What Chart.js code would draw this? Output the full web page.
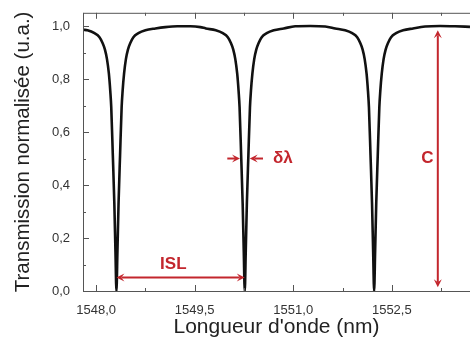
<!DOCTYPE html>
<html>
<head>
<meta charset="utf-8">
<script src="https://cdn.jsdelivr.net/npm/chart.js@4/dist/chart.umd.min.js"></script>
<style>
  html, body { margin: 0; background: #fff; }
  #wrap { width: 470px; height: 353px; position: relative; }
</style>
</head>
<body>
<div id="wrap"><canvas id="spectrum"></canvas></div>
<script>
(() => {
  "use strict";

  // wavelength (nm) and normalised transmission
  const wavelengths = [
    1547.807, 1547.868, 1547.975, 1548.051, 1548.096, 1548.134, 1548.165, 1548.194,
    1548.215, 1548.230, 1548.254, 1548.277, 1548.294, 1548.309, 1548.324, 1548.341,
    1548.364, 1548.388, 1548.403, 1548.425, 1548.453, 1548.484, 1548.522, 1548.567,
    1548.643, 1548.750, 1548.902, 1549.053, 1549.236, 1549.434, 1549.586,
    1549.669, 1549.821, 1549.928, 1550.004, 1550.049, 1550.087, 1550.118, 1550.147,
    1550.168, 1550.183, 1550.207, 1550.230, 1550.247, 1550.262, 1550.277, 1550.294,
    1550.317, 1550.341, 1550.356, 1550.378, 1550.406, 1550.437, 1550.475, 1550.520,
    1550.596, 1550.703, 1550.855, 1551.030, 1551.258, 1551.486,
    1551.638, 1551.790, 1551.897, 1551.973, 1552.018, 1552.056, 1552.087, 1552.116,
    1552.137, 1552.152, 1552.176, 1552.199, 1552.216, 1552.231, 1552.246, 1552.263,
    1552.286, 1552.310, 1552.325, 1552.347, 1552.375, 1552.406, 1552.444, 1552.489,
    1552.565, 1552.672, 1552.824, 1553.006, 1553.234, 1553.462, 1553.690
  ];
  const transmission = [
    0.986, 0.984, 0.973, 0.958, 0.937, 0.911, 0.875, 0.820,
    0.755, 0.693, 0.512, 0.330, 0.149, 0.000, 0.149, 0.330,
    0.512, 0.693, 0.755, 0.820, 0.875, 0.911, 0.937, 0.958,
    0.973, 0.984, 0.991, 0.996, 0.999, 0.999, 0.996,
    0.991, 0.984, 0.973, 0.958, 0.937, 0.911, 0.875, 0.820,
    0.755, 0.693, 0.512, 0.330, 0.149, 0.000, 0.149, 0.330,
    0.512, 0.693, 0.755, 0.820, 0.875, 0.911, 0.937, 0.958,
    0.973, 0.984, 0.991, 0.999, 1.000, 0.998,
    0.991, 0.984, 0.973, 0.958, 0.937, 0.911, 0.875, 0.820,
    0.755, 0.693, 0.512, 0.330, 0.149, 0.000, 0.149, 0.330,
    0.512, 0.693, 0.755, 0.820, 0.875, 0.911, 0.937, 0.958,
    0.973, 0.984, 0.991, 0.998, 1.000, 0.999, 0.997
  ];

  const xMajorTicks = [1548, 1549.5, 1551, 1552.5];
  const xMinorTicks = [1548.75, 1550.25, 1551.75, 1553.25];
  const yMajorTicks = [0, 0.2, 0.4, 0.6, 0.8, 1.0];
  const yMinorTicks = [0.1, 0.3, 0.5, 0.7, 0.9];

  const RED = "#c3262d";
  const AXIS = "#555";
  const FONT = "'Liberation Sans', Arial, sans-serif";

  // annotation marks in data units
  const arrows = [
    { from: [1548.309, 0.051], to: [1550.262, 0.051], both: true },
    { from: [1549.996, 0.50], to: [1550.189, 0.50], both: false },
    { from: [1550.540, 0.50], to: [1550.337, 0.50], both: false },
    { from: [1553.20, 0.984], to: [1553.20, 0.0145], both: true }
  ];
  const labels = [
    { text: "ISL", at: [1549.175, 0.100], align: "center" },
    { text: "δλ", at: [1550.69, 0.50], align: "left" },
    { text: "C", at: [1553.04, 0.50], align: "center" }
  ];

  const fmt = (v) => v.toFixed(1).replace(".", ",");

  function drawHead(ctx, tx, ty, dx, dy) {
    const len = 8, half = 4;
    const px = -dy, py = dx;
    ctx.beginPath();
    ctx.moveTo(tx, ty);
    ctx.lineTo(tx - dx * len + px * half, ty - dy * len + py * half);
    ctx.lineTo(tx - dx * len * 0.6, ty - dy * len * 0.6);
    ctx.lineTo(tx - dx * len - px * half, ty - dy * len - py * half);
    ctx.closePath();
    ctx.fill();
  }

  const framePlugin = {
    id: "frame",
    afterDraw(chart) {
      const { ctx, chartArea: a, scales } = chart;
      const xs = scales.x, ys = scales.y;
      ctx.save();
      ctx.strokeStyle = AXIS;
      ctx.lineWidth = 1;
      ctx.beginPath();
      ctx.moveTo(a.left + 0.5, a.top + 0.5);
      ctx.lineTo(a.right, a.top + 0.5);
      ctx.moveTo(a.left + 0.5, a.top);
      ctx.lineTo(a.left + 0.5, a.bottom + 0.5);
      ctx.lineTo(a.right, a.bottom + 0.5);
      const xTick = (v, len) => {
        const px = Math.round(xs.getPixelForValue(v)) + 0.5;
        ctx.moveTo(px, a.bottom); ctx.lineTo(px, a.bottom - len);
        ctx.moveTo(px, a.top); ctx.lineTo(px, a.top + len);
      };
      const yTick = (v, len) => {
        const py = Math.round(ys.getPixelForValue(v)) + 0.5;
        ctx.moveTo(a.left, py); ctx.lineTo(a.left + len, py);
      };
      xMajorTicks.forEach((v) => xTick(v, 6));
      xMinorTicks.forEach((v) => xTick(v, 3));
      yMajorTicks.forEach((v) => yTick(v, 6));
      yMinorTicks.forEach((v) => yTick(v, 3));
      ctx.stroke();

      // red annotations
      ctx.strokeStyle = RED;
      ctx.fillStyle = RED;
      ctx.lineWidth = 2;
      arrows.forEach((ar) => {
        const x1 = xs.getPixelForValue(ar.from[0]), y1 = ys.getPixelForValue(ar.from[1]);
        const x2 = xs.getPixelForValue(ar.to[0]), y2 = ys.getPixelForValue(ar.to[1]);
        const d = Math.hypot(x2 - x1, y2 - y1);
        const dx = (x2 - x1) / d, dy = (y2 - y1) / d;
        ctx.beginPath();
        ctx.moveTo(x1 + (ar.both ? dx * 5 : 0), y1 + (ar.both ? dy * 5 : 0));
        ctx.lineTo(x2 - dx * 5, y2 - dy * 5);
        ctx.stroke();
        drawHead(ctx, x2, y2, dx, dy);
        if (ar.both) drawHead(ctx, x1, y1, -dx, -dy);
      });
      ctx.font = `bold 17px ${FONT}`;
      ctx.textBaseline = "middle";
      labels.forEach((lb) => {
        ctx.textAlign = lb.align;
        ctx.fillText(lb.text, xs.getPixelForValue(lb.at[0]), ys.getPixelForValue(lb.at[1]));
      });
      ctx.restore();
    }
  };

  new Chart(document.getElementById("spectrum"), {
    type: "line",
    data: {
      datasets: [{
        data: wavelengths.map((x, i) => ({ x, y: transmission[i] })),
        borderColor: "#111",
        borderWidth: 2.6,
        pointRadius: 0,
        cubicInterpolationMode: "monotone",
        fill: false
      }]
    },
    options: {
      responsive: true,
      maintainAspectRatio: false,
      animation: false,
      layout: { padding: { top: 2, right: 0, bottom: 0, left: 0 } },
      plugins: { legend: { display: false }, tooltip: { enabled: false } },
      scales: {
        x: {
          type: "linear",
          min: 1547.8,
          max: 1553.69,
          grid: { display: false },
          border: { display: false },
          afterBuildTicks(s) { s.ticks = xMajorTicks.map((value) => ({ value })); },
          afterFit(s) { s.height = 62; },
          ticks: { callback: fmt, padding: 4, color: "#333", maxRotation: 0, font: { family: FONT, size: 13 } },
          title: {
            display: true,
            text: "Longueur d'onde (nm)",
            color: "#222",
            padding: { top: 0, bottom: 13 },
            font: { family: FONT, size: 21 }
          }
        },
        y: {
          min: 0,
          max: 1.05,
          grid: { display: false },
          border: { display: false },
          afterBuildTicks(s) { s.ticks = yMajorTicks.map((value) => ({ value })); },
          afterFit(s) { s.width = 83; },
          ticks: { callback: fmt, padding: 5, color: "#333", font: { family: FONT, size: 13 } },
          title: {
            display: true,
            text: "Transmission normalisée (u.a.)",
            color: "#222",
            padding: { top: 11, bottom: 0 },
            font: { family: FONT, size: 20.5 }
          }
        }
      }
    },
    plugins: [framePlugin]
  });
})();
</script>
</body>
</html>
